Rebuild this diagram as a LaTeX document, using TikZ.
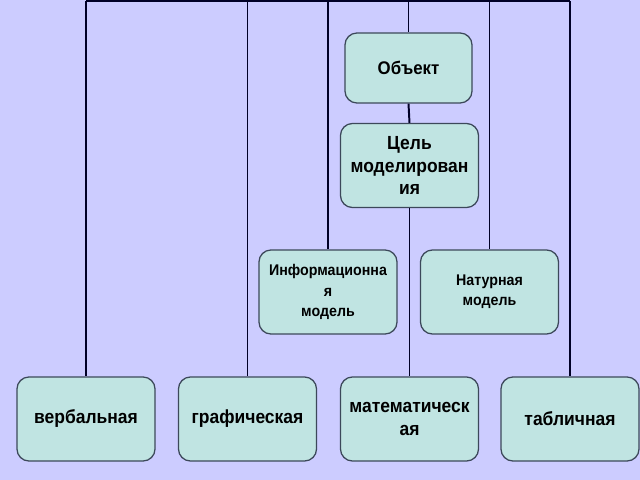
\documentclass[tikz,border=0pt]{standalone}
\usepackage{fontspec}
\setmainfont{Liberation Sans}
\newfontfamily\boxfont[FakeStretch=0.92]{Liberation Sans}
\usepackage{tikz}

\definecolor{pagebg}{RGB}{204,204,255}
\definecolor{boxfill}{RGB}{192,228,226}
\definecolor{boxline}{RGB}{60,72,90}

\begin{document}
\begin{tikzpicture}[x=0.025cm, y=-0.025cm,
    box/.style={draw=boxline, line width=0.9pt, fill=boxfill, rounded corners=0.3cm,
                minimum width=3.45cm, minimum height=2.1cm, align=center,
                inner sep=1pt, font=\boxfont\bfseries\fontsize{13.5}{16}\selectfont},
    link/.style={draw=black!85!blue, line width=1.4pt}]
    \fill[pagebg] (0,0) rectangle (640,480);
    \useasboundingbox (0,0) rectangle (640,480);

    % boxes
    \node[box, minimum width=3.175cm, minimum height=1.75cm,
          font=\boxfont\bfseries\fontsize{13}{16}\selectfont] (obj) at (408.5,68) {Объект};
    \node[box] (goal) at (409.5,165.5) {Цель\\моделирован\\ия};
    \node[box, font=\boxfont\bfseries\fontsize{11}{14.5}\selectfont] (info) at (328,292) {Информационна\\я\\модель};
    \node[box, font=\boxfont\bfseries\fontsize{11}{14.5}\selectfont] (nat) at (489.5,292) {Натурная\\модель};
    \node[box] (verb) at (86,419) {вербальная};
    \node[box] (graf) at (247.5,419) {графическая};
    \node[box] (math) at (409.5,419) {математическ\\ая};
    \node[box] (tab) at (570,419) {табличная};

    % top rail
    \coordinate (t1) at (verb.north |- 0,1);
    \coordinate (t2) at (graf.north |- 0,1);
    \coordinate (t3) at (info.north |- 0,1);
    \coordinate (t4) at (obj.north |- 0,1);
    \coordinate (t5) at (nat.north |- 0,1);
    \coordinate (t6) at (tab.north |- 0,1);
    \draw[link] (t1) -- (t6);

    \draw[link] (t1) -- (verb.north);
    \draw[link] (t2) -- (graf.north);
    \draw[link] (t3) -- (info.north);
    \draw[link] (t4) -- (obj.north);
    \draw[link] (t5) -- (nat.north);
    \draw[link] (t6) -- (tab.north);
    \draw[link] (obj.south) -- (goal.north);
    \draw[link] (goal.south) -- (math.north);
\end{tikzpicture}
\end{document}
